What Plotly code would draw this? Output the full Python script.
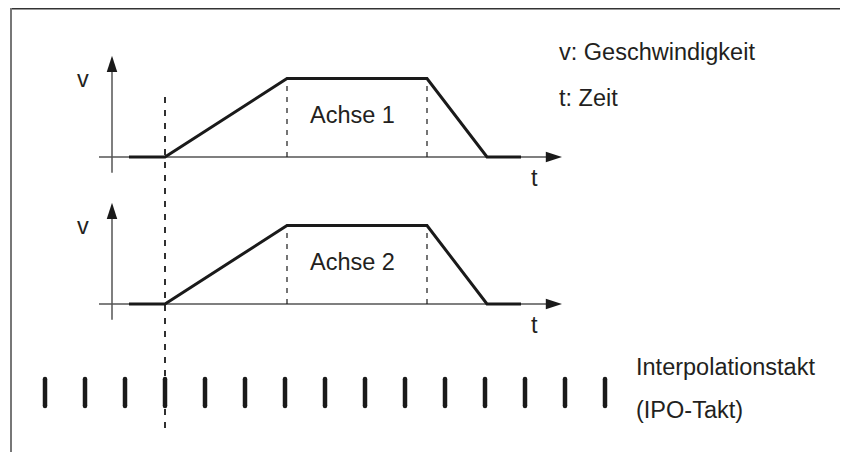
import plotly.graph_objects as go

# Seite hat 8px Body-Rand -> Figur um 8px kleiner, alle Pixelwerte im Bild-Koordinatensystem
OFF = 8
W, H = 848 - OFF, 452 - OFF

# Geschwindigkeitsprofil: Zeit in IPO-Takten, v normiert
t_knots = [2.1, 3.0, 6.05, 9.55, 11.05, 11.9]
v_knots = [0, 0, 1, 1, 0, 0]

axis_labels = ["Achse 1", "Achse 2"]
ipo_ticks = list(range(15))
legend_lines = ["v: Geschwindigkeit", "t: Zeit"]
ipo_lines = ["Interpolationstakt", "(IPO-Takt)"]

# Layout (Pixel im Bild)
X0, PX_PER_TAKT = 45, 40          # Pixel des 0. Takts, Pixel pro Takt
BASE_PX = [157, 304]              # Nulllinie der beiden Diagramme
PX_PER_V = 78.5
FONT = dict(family="Arial, Liberation Sans, sans-serif", size=23.5, color="#231f20")
INK = "#1a1a1a"
AXIS = "#555555"


def v_range(base):
    b = base - OFF
    return [-(H - b) / PX_PER_V, b / PX_PER_V]


def px(x):
    return (x - OFF) / W


def py(y):
    return 1 - (y - OFF) / H


fig = go.Figure()
annotations = []

for i, (label, base) in enumerate(zip(axis_labels, BASE_PX)):
    yref = "y" if i == 0 else "y2"
    # t-Achse
    fig.add_trace(go.Scatter(x=[1.35, 12.6], y=[0, 0], mode="lines", yaxis=yref,
                             line=dict(color=AXIS, width=1.5), hoverinfo="skip"))
    fig.add_trace(go.Scatter(x=[12.925], y=[0], mode="markers", yaxis=yref,
                             marker=dict(symbol="arrow", angle=90, size=17, color=INK,
                                         line=dict(width=0)), hoverinfo="skip"))
    # v-Achse
    fig.add_trace(go.Scatter(x=[1.675, 1.675], y=[-0.2, 1.1], mode="lines", yaxis=yref,
                             line=dict(color=AXIS, width=1.5), hoverinfo="skip"))
    fig.add_trace(go.Scatter(x=[1.675], y=[1.29], mode="markers", yaxis=yref,
                             marker=dict(symbol="arrow", angle=0, size=17, color=INK,
                                         line=dict(width=0)), hoverinfo="skip"))
    # Hilfslinien Ende Beschleunigung / Beginn Bremsen
    for tk in (t_knots[2], t_knots[3]):
        fig.add_trace(go.Scatter(x=[tk, tk], y=[0, 1], mode="lines", yaxis=yref,
                                 line=dict(color=INK, width=1.2, dash="5px,6px"),
                                 hoverinfo="skip"))
    # Profil
    fig.add_trace(go.Scatter(x=t_knots, y=v_knots, mode="lines", yaxis=yref,
                             line=dict(color=INK, width=3), hoverinfo="skip"))

    annotations += [
        dict(x=0.95, y=1.0, xref="x", yref=yref, text="v", showarrow=False, font=FONT),
        dict(x=12.225, y=-0.27, xref="x", yref=yref, text="t", showarrow=False, font=FONT),
        dict(x=7.675, y=0.54, xref="x", yref=yref, text=label, showarrow=False, font=FONT),
    ]

# IPO-Takt Striche (runde Enden über Kreis-Marker)
tx, ty = [], []
for k in ipo_ticks:
    tx += [k, k, None]
    ty += [379, 406, None]
fig.add_trace(go.Scatter(x=tx, y=ty, mode="lines+markers", yaxis="y3",
                         line=dict(color=INK, width=4.5),
                         marker=dict(symbol="circle", size=4.5, color=INK, line=dict(width=0)),
                         hoverinfo="skip"))

# Startzeitpunkt
fig.add_trace(go.Scatter(x=[t_knots[1], t_knots[1]], y=[97, 434], mode="lines", yaxis="y3",
                         line=dict(color=INK, width=1.8, dash="6px,7px"), hoverinfo="skip"))

for i, txt in enumerate(legend_lines):
    annotations.append(dict(x=px(557), y=py(52 + 46 * i), xref="paper", yref="paper",
                            text=txt, showarrow=False, xanchor="left", yanchor="middle", font=FONT))
for i, txt in enumerate(ipo_lines):
    annotations.append(dict(x=px(634), y=py(367 + 43 * i), xref="paper", yref="paper",
                            text=txt, showarrow=False, xanchor="left", yanchor="middle", font=FONT))

# Rahmen (oben und links)
shapes = [
    dict(type="line", xref="paper", yref="paper", x0=px(11), x1=1, y0=py(8.8), y1=py(8.8),
         line=dict(color="#333333", width=1.5)),
    dict(type="line", xref="paper", yref="paper", x0=px(11), x1=px(11), y0=py(8), y1=0,
         line=dict(color="#777777", width=2)),
]

hidden = dict(visible=False, showgrid=False, zeroline=False, fixedrange=True)
fig.update_layout(
    width=W, height=H,
    margin=dict(l=0, r=0, t=0, b=0),
    paper_bgcolor="white", plot_bgcolor="white",
    showlegend=False,
    xaxis=dict(range=[(OFF - X0) / PX_PER_TAKT, (W + OFF - X0) / PX_PER_TAKT], **hidden),
    yaxis=dict(range=v_range(BASE_PX[0]), **hidden),
    yaxis2=dict(range=v_range(BASE_PX[1]), overlaying="y", **hidden),
    yaxis3=dict(range=[H + OFF, OFF], overlaying="y", **hidden),
    annotations=annotations,
    shapes=shapes,
)

fig.write_html("out.html")
